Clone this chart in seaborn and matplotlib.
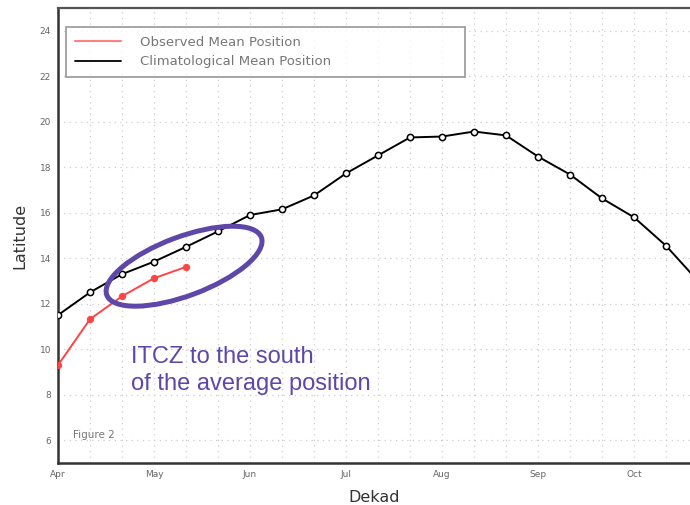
import pandas as pd
import numpy as np
import seaborn as sns
import matplotlib.pyplot as plt
from matplotlib.lines import Line2D
from matplotlib.patches import Ellipse
from matplotlib.ticker import MultipleLocator
import matplotlib.transforms as mtransforms

# dekad index 0 = first dekad of April
months = ["Apr", "May", "Jun", "Jul", "Aug", "Sep", "Oct"]
clim_lat = [11.5, 12.5, 13.3, 13.85, 14.5, 15.18, 15.9, 16.15, 16.76, 17.73, 18.52,
            19.31, 19.35, 19.57, 19.4, 18.47, 17.68, 16.63, 15.8, 14.55, 13.0]
obs_lat = [9.3, 11.32, 12.33, 13.12, 13.62]

clim = pd.DataFrame({"dekad": range(len(clim_lat)), "lat": clim_lat})
obs = pd.DataFrame({"dekad": range(len(obs_lat)), "lat": obs_lat})

sns.set_style("white")
plt.rcParams["font.family"] = ["DejaVu Sans"]

fig = plt.figure(figsize=(6.9, 5.05), dpi=100)
ax = fig.add_axes([58 / 690, 42 / 505, 632 / 690, 455 / 505])

red = "#ff4444"
sns.lineplot(clim, x="dekad", y="lat", ax=ax, color="black", lw=1.4, marker="o",
             markersize=4.5, markerfacecolor="white", markeredgecolor="black",
             markeredgewidth=1.1, zorder=3)
sns.lineplot(obs, x="dekad", y="lat", ax=ax, color=red, lw=1.4, marker="o",
             markersize=4.5, markerfacecolor=red, markeredgecolor=red, zorder=4)

ax.set_xlim(0, 19.75)
ax.set_ylim(5, 25)
ax.set_xticks(np.arange(0, 3 * len(months), 3))
ax.set_xticklabels(months)
ax.xaxis.set_minor_locator(MultipleLocator(1))
ax.set_yticks(np.arange(6, 25, 2))

ax.grid(axis="x", which="both", color="#cccccc", ls=(0, (1, 3.5)), lw=0.9)
ax.grid(axis="y", which="major", color="#cccccc", ls=(0, (1, 3.5)), lw=0.9)
ax.tick_params(axis="both", which="both", direction="out", length=3, width=0.8,
               color="#888888", labelcolor="#666666", labelsize=6.5, pad=2)

for side in ["left", "bottom"]:
    ax.spines[side].set_color("#333333")
    ax.spines[side].set_linewidth(1.8)
ax.spines["top"].set_color("#555555")
ax.spines["top"].set_linewidth(1.6)
ax.spines["right"].set_visible(False)

ax.set_xlabel("Dekad", fontsize=11.5, color="#333333", labelpad=8)
ax.set_ylabel("Latitude", fontsize=11.5, color="#333333", labelpad=9)

handles = [Line2D([], [], color="#ff8080", lw=1.5),
           Line2D([], [], color="black", lw=1.3)]
leg = ax.legend(handles, ["Observed Mean Position", "Climatological Mean Position"],
                loc="lower left", bbox_to_anchor=(0.0127, 0.848, 0.631, 0.115),
                mode="expand", borderaxespad=0, fancybox=False, frameon=True,
                fontsize=9.5, handlelength=3.5, handletextpad=1.4,
                labelspacing=0.5, borderpad=0.68, labelcolor="#777777")
leg.get_frame().set_edgecolor("#888888")
leg.get_frame().set_linewidth(1.3)

ax.text(0.024, 0.055, "Figure 2", transform=ax.transAxes, fontsize=7.5,
        color="#777777")

purple = "#5e47a8"
offset = mtransforms.ScaledTranslation(3.94, 13.65, ax.transData)
ax.add_patch(Ellipse((0, 0), 1.65, 0.59, angle=20.5, fill=False, ec=purple, lw=3.6,
                     transform=fig.dpi_scale_trans + offset, zorder=5))
ax.text(0.1155, 0.160, "ITCZ to the south\nof the average position",
        transform=ax.transAxes, fontsize=17, color=purple, va="baseline",
        family=["Liberation Sans"], linespacing=1.33)

plt.savefig("out.png", dpi=100)
